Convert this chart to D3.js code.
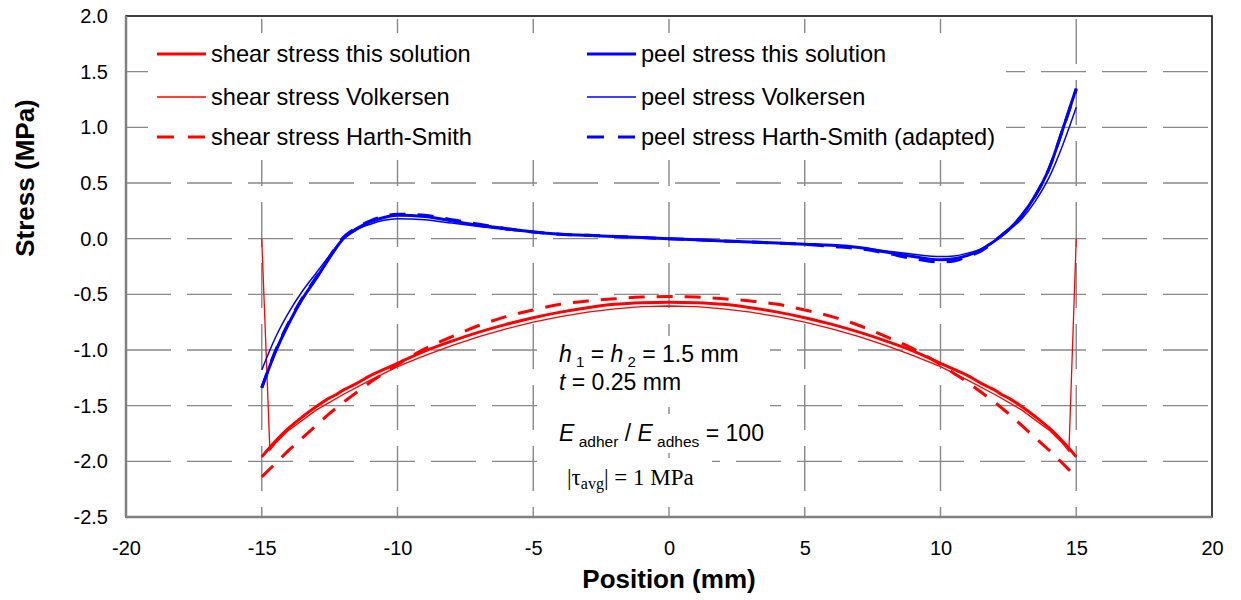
<!DOCTYPE html>
<html>
<head>
<meta charset="utf-8">
<script src="https://cdn.jsdelivr.net/npm/d3@7"></script>
<style>
  body { margin: 0; background: #fff; }
  text { font-family: Arial, "Liberation Sans", sans-serif; }
</style>
</head>
<body>
<svg width="1241" height="600"></svg>
<script>
// positions (mm) shared by most series
var pos = [-15, -14.5, -14, -13.5, -13, -12.5, -12.25, -12, -11.75, -11.5, -11, -10.5, -10, -9, -8, -7, -6, -5, -4, -3, -2, -1, 0,
           1, 2, 3, 4, 5, 6, 7, 8, 9, 10, 10.5, 11, 11.5, 11.75, 12, 12.25, 12.5, 13, 13.5, 14, 14.5, 15];

// shear stress (MPa)
var shearThis = [-1.96, -1.82, -1.70, -1.60, -1.51, -1.43, -1.40, -1.36, -1.33, -1.30, -1.23, -1.175, -1.12, -1.01, -0.92, -0.84, -0.77, -0.71, -0.66, -0.62, -0.59, -0.575, -0.57,
                 -0.575, -0.59, -0.62, -0.66, -0.71, -0.77, -0.84, -0.92, -1.01, -1.12, -1.175, -1.23, -1.30, -1.33, -1.36, -1.40, -1.43, -1.51, -1.60, -1.70, -1.82, -1.96];
var shearHarth = [-2.14, -2.02, -1.90, -1.79, -1.68, -1.57, -1.52, -1.47, -1.425, -1.38, -1.29, -1.21, -1.13, -0.99, -0.88, -0.78, -0.70, -0.64, -0.59, -0.56, -0.54, -0.525, -0.52,
                  -0.525, -0.54, -0.56, -0.59, -0.64, -0.70, -0.78, -0.88, -0.99, -1.13, -1.21, -1.29, -1.38, -1.425, -1.47, -1.52, -1.57, -1.68, -1.79, -1.90, -2.02, -2.14];
// Volkersen has its own positions (drops to zero at the free ends)
var posVolk = [-15, -14.7, -14.5, -14, -13, -12, -11, -10, -9, -8, -7, -6, -5, -4, -3, -2, -1, 0,
               1, 2, 3, 4, 5, 6, 7, 8, 9, 10, 11, 12, 13, 14, 14.5, 14.73, 15];
var shearVolk = [0, -1.90, -1.84, -1.72, -1.54, -1.40, -1.27, -1.15, -1.05, -0.96, -0.88, -0.81, -0.75, -0.70, -0.66, -0.63, -0.61, -0.605,
                 -0.61, -0.63, -0.66, -0.70, -0.75, -0.81, -0.88, -0.96, -1.05, -1.15, -1.27, -1.40, -1.54, -1.72, -1.84, -1.91, 0];

// peel stress (MPa)
var peelThis = [-1.34, -1.02, -0.76, -0.54, -0.36, -0.17, -0.08, 0.0, 0.05, 0.09, 0.15, 0.19, 0.21, 0.20, 0.16, 0.12, 0.09, 0.06, 0.04, 0.03, 0.02, 0.01, 0.0,
                -0.01, -0.02, -0.03, -0.04, -0.05, -0.06, -0.08, -0.12, -0.16, -0.19, -0.18, -0.15, -0.10, -0.06, -0.02, 0.03, 0.08, 0.21, 0.39, 0.63, 0.98, 1.35];
var peelVolk = [-1.18, -0.89, -0.66, -0.47, -0.31, -0.15, -0.07, 0.0, 0.04, 0.08, 0.13, 0.165, 0.18, 0.17, 0.14, 0.11, 0.08, 0.06, 0.04, 0.03, 0.02, 0.01, 0.0,
                -0.01, -0.02, -0.03, -0.04, -0.05, -0.06, -0.08, -0.11, -0.14, -0.16, -0.155, -0.13, -0.09, -0.055, -0.02, 0.02, 0.07, 0.18, 0.34, 0.55, 0.84, 1.18];
var peelHarth = [-1.34, -1.01, -0.75, -0.53, -0.35, -0.16, -0.07, 0.01, 0.06, 0.10, 0.16, 0.20, 0.22, 0.21, 0.17, 0.13, 0.09, 0.06, 0.04, 0.03, 0.02, 0.01, 0.0,
                 -0.01, -0.02, -0.03, -0.04, -0.05, -0.07, -0.09, -0.13, -0.18, -0.21, -0.20, -0.16, -0.11, -0.07, -0.02, 0.03, 0.08, 0.21, 0.39, 0.63, 0.98, 1.34];

var xTicks = [-20, -15, -10, -5, 0, 5, 10, 15, 20];
var yTicks = [-2.5, -2.0, -1.5, -1.0, -0.5, 0.0, 0.5, 1.0, 1.5, 2.0];

var legendLeft = ["shear stress this solution", "shear stress Volkersen", "shear stress Harth-Smith"];
var legendRight = ["peel stress this solution", "peel stress Volkersen", "peel stress Harth-Smith (adapted)"];

var svg = d3.select("svg");
var x = d3.scaleLinear().domain([-20, 20]).range([126, 1212]);
var y = d3.scaleLinear().domain([-2.5, 2]).range([517, 16]);

// gridlines
var grid = svg.append("g").attr("stroke", "#888").attr("stroke-width", 1.4).attr("stroke-dasharray", "45,16");
grid.selectAll(".hg").data(yTicks.slice(1, -1)).enter().append("line")
  .attr("x1", x(-20)).attr("x2", x(20))
  .attr("y1", function(d) { return y(d); }).attr("y2", function(d) { return y(d); });
grid.selectAll(".vg").data(xTicks.slice(1, -1)).enter().append("line")
  .attr("x1", function(d) { return x(d); }).attr("x2", function(d) { return x(d); })
  .attr("y1", y(2)).attr("y2", y(-2.5))
  .attr("stroke-dashoffset", 58);

// white boxes behind legend and annotation
svg.append("rect").attr("x", 148).attr("y", 33).attr("width", 858).attr("height", 127).attr("fill", "#fff");
svg.append("rect").attr("x", 548).attr("y", 336).attr("width", 222).attr("height", 71).attr("fill", "#fff");
svg.append("rect").attr("x", 548).attr("y", 414).attr("width", 222).attr("height", 39).attr("fill", "#fff");
svg.append("rect").attr("x", 548).attr("y", 458).attr("width", 164).attr("height", 38).attr("fill", "#fff");

// frame
svg.append("rect").attr("x", x(-20)).attr("y", y(2)).attr("width", x(20) - x(-20)).attr("height", y(-2.5) - y(2))
  .attr("fill", "none").attr("stroke", "#000").attr("stroke-width", 1.5);
svg.append("line").attr("x1", x(-20)).attr("x2", x(-20)).attr("y1", y(2)).attr("y2", y(-2.5))
  .attr("stroke", "#808080").attr("stroke-width", 2.5);
svg.append("line").attr("x1", x(-20)).attr("x2", x(20)).attr("y1", y(-2.5)).attr("y2", y(-2.5))
  .attr("stroke", "#808080").attr("stroke-width", 2.5);

// axes labels
var yAxis = d3.axisLeft(y).tickValues(yTicks).tickSize(0).tickPadding(18);
svg.append("g").attr("transform", "translate(" + x(-20) + ",0)").call(yAxis)
  .call(function(g) { g.select(".domain").remove(); })
  .selectAll("text").attr("font-size", 20).attr("font-family", "Arial, 'Liberation Sans'").attr("fill", "#000")
  .text(function(d) { return d3.format(".1f")(d).replace("−", "-"); });
var xAxis = d3.axisBottom(x).tickValues(xTicks).tickSize(0).tickPadding(24);
svg.append("g").attr("transform", "translate(0," + y(-2.5) + ")").call(xAxis)
  .call(function(g) { g.select(".domain").remove(); })
  .selectAll("text").attr("font-size", 20).attr("font-family", "Arial, 'Liberation Sans'").attr("fill", "#000")
  .text(function(d) { return String(d); });

svg.append("text").attr("x", 669).attr("y", 588).attr("text-anchor", "middle")
  .attr("font-size", 26).attr("font-weight", "bold").text("Position (mm)");
svg.append("text").attr("transform", "translate(34,178) rotate(-90)").attr("text-anchor", "middle")
  .attr("font-size", 26).attr("font-weight", "bold").text("Stress (MPa)");

// curves
var line = d3.line().x(function(d) { return x(d[0]); }).y(function(d) { return y(d[1]); }).curve(d3.curveMonotoneX);
var lineStraight = d3.line().x(function(d) { return x(d[0]); }).y(function(d) { return y(d[1]); });
function zip(a, b) { return a.map(function(v, i) { return [v, b[i]]; }); }

var series = [
  {d: zip(posVolk, shearVolk), c: "#ff0000", w: 1.3, dash: null, f: lineStraight},
  {d: zip(pos, shearThis), c: "#ff0000", w: 3, dash: null, f: line},
  {d: zip(pos, shearHarth), c: "#ff0000", w: 3, dash: "16,12", f: line},
  {d: zip(pos, peelVolk), c: "#0000ff", w: 1.5, dash: null, f: line},
  {d: zip(pos, peelThis), c: "#0000ff", w: 3, dash: null, f: line},
  {d: zip(pos, peelHarth), c: "#0000ff", w: 3, dash: "16,12", f: line}
];
series.forEach(function(s) {
  svg.append("path").attr("d", s.f(s.d)).attr("fill", "none").attr("stroke", s.c)
    .attr("stroke-width", s.w).attr("stroke-dasharray", s.dash);
});

// legend
var legStyles = [{w: 3, dash: null}, {w: 1.5, dash: null}, {w: 3, dash: "17,14"}];
var legY = [54, 97, 137];
[[legendLeft, 157, "#ff0000"], [legendRight, 587, "#0000ff"]].forEach(function(col) {
  col[0].forEach(function(label, i) {
    svg.append("line").attr("x1", col[1]).attr("x2", col[1] + 49).attr("y1", legY[i]).attr("y2", legY[i])
      .attr("stroke", col[2]).attr("stroke-width", legStyles[i].w).attr("stroke-dasharray", legStyles[i].dash);
    svg.append("text").attr("x", col[1] + 54).attr("y", legY[i] + 8).attr("font-size", 23.6).text(label);
  });
});

// annotation
var ann = svg.append("g").attr("font-size", 23);
var t1 = ann.append("text").attr("x", 559).attr("y", 362);
t1.append("tspan").attr("font-style", "italic").text("h");
t1.append("tspan").attr("font-size", 15).attr("dy", 5).text(" 1");
t1.append("tspan").attr("dy", -5).text(" = ");
t1.append("tspan").attr("font-style", "italic").text("h");
t1.append("tspan").attr("font-size", 15).attr("dy", 5).text(" 2");
t1.append("tspan").attr("dy", -5).text(" = 1.5 mm");
var t2 = ann.append("text").attr("x", 559).attr("y", 390);
t2.append("tspan").attr("font-style", "italic").text("t");
t2.append("tspan").text(" = 0.25 mm");
var t3 = ann.append("text").attr("x", 559).attr("y", 441);
t3.append("tspan").attr("font-style", "italic").text("E");
t3.append("tspan").attr("font-size", 15.5).attr("dy", 6).text(" adher");
t3.append("tspan").attr("dy", -6).text(" / ");
t3.append("tspan").attr("font-style", "italic").text("E");
t3.append("tspan").attr("font-size", 15.5).attr("dy", 6).text(" adhes");
t3.append("tspan").attr("dy", -6).text(" = 100");
var t4 = svg.append("text").attr("x", 567).attr("y", 485).attr("font-size", 23)
  .style("font-family", "'Liberation Serif', 'Times New Roman', serif");
t4.append("tspan").text("|τ");
t4.append("tspan").attr("font-size", 16).attr("dy", 4).text("avg");
t4.append("tspan").attr("dy", -4).text("| = 1 MPa");
</script>
</body>
</html>
